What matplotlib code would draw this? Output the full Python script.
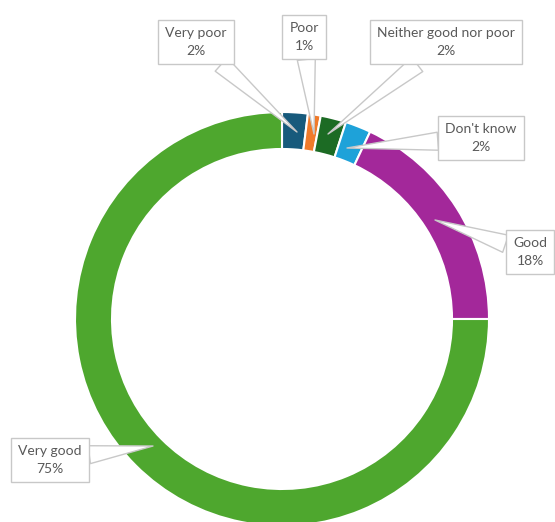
import matplotlib.pyplot as plt

labels = ['Very poor', 'Poor', 'Neither good nor poor', "Don't know", 'Good', 'Very good']
values = [2, 1, 2, 2, 18, 75]
colors = ['#175a7c', '#f07a2a', '#1c6b24', '#1ea2d9', '#a3289a', '#4ea72e']

# label box centres and arrow tips, in image pixels (y down)
box_xy = [(196, 42), (304, 37), (446, 42), (481, 138), (530, 252), (50, 460)]
tip_xy = [(297, 132), (314, 134), (328, 134), (347, 148), (435, 220), (153, 446)]

W, H = 555, 522
fig = plt.figure(figsize=(W / 100, H / 100), dpi=100)
ax = fig.add_axes([0, 0, 1, 1])

ax.pie(values, colors=colors, startangle=90, counterclock=False,
       center=(282, H - 319), radius=207, frame=True,
       wedgeprops=dict(width=37, edgecolor='white', linewidth=1.5))
ax.set_xlim(0, W)
ax.set_ylim(0, H)
ax.set_aspect('equal')
ax.axis('off')

for lab, v, (bx, by), (tx, ty) in zip(labels, values, box_xy, tip_xy):
    ax.annotate(f'{lab}\n{v}%', xy=(tx, H - ty), xytext=(bx, H - by),
                ha='center', va='center', fontsize=10, color='#595959',
                family='Lato', linespacing=1.6,
                bbox=dict(boxstyle='square,pad=0.5', fc='white', ec='#c8c8c8', lw=1),
                arrowprops=dict(arrowstyle='wedge,tail_width=1.3,shrink_factor=0.5',
                                fc='white', ec='#c8c8c8', lw=1, shrinkA=0, shrinkB=0))

fig.savefig('out.png', dpi=100)
